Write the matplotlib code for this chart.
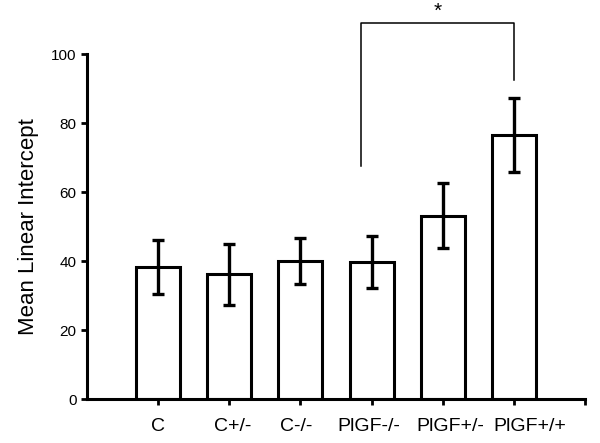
import numpy as np
import matplotlib
matplotlib.use("Agg")
import matplotlib.pyplot as plt

plt.rcParams['font.family'] = ['Liberation Sans', 'DejaVu Sans']

# data
groups = ["C", "C+/-", "C-/-", "PlGF-/-", "PlGF+/-", "PlGF+/+"]
means = [38.3, 36.2, 40.0, 39.7, 53.0, 76.5]
err_lo = [30.4, 27.2, 33.3, 32.2, 43.8, 65.8]
err_hi = [46.1, 44.9, 46.7, 47.2, 62.6, 87.2]
# labels in the original are not exactly centred under the ticks
label_shift = [0.0, 0.05, -0.06, -0.04, 0.1, 0.22]

x = np.arange(1, len(groups) + 1)
yerr = np.array([np.subtract(means, err_lo), np.subtract(err_hi, means)])

fig = plt.figure(figsize=(6, 4.43), dpi=100)
ax = fig.add_axes([0.145, 0.0993, 0.83, 0.7787])

ax.bar(x, means, width=0.62, color='white', edgecolor='black', linewidth=2.2, zorder=2)
ax.errorbar(x, means, yerr=yerr, fmt='none', ecolor='black', elinewidth=2.4,
            capsize=4.3, capthick=2.4, zorder=3)

# significance bracket
ax.plot([3.85, 3.85, 6.0, 6.0], [67.5, 109, 109, 92.5], color='black', lw=1.1,
        clip_on=False)
ax.text(4.93, 109.5, '*', ha='center', va='bottom', fontsize=15)

ax.set_xlim(0, 7)
ax.set_ylim(0, 100)
ax.set_xticks(list(x) + [7])
ax.set_xticklabels([])
for xi, g, sh in zip(x, groups, label_shift):
    ax.text(xi + sh, -0.055, g, transform=ax.get_xaxis_transform(),
            ha='center', va='top', fontsize=14)
ax.set_yticks([0, 20, 40, 60, 80, 100])
ax.tick_params(axis='y', labelsize=11, width=2, length=4)
ax.tick_params(axis='x', width=2, length=4)
ax.set_ylabel('Mean Linear Intercept', fontsize=16, labelpad=9)

for s in ['top', 'right']:
    ax.spines[s].set_visible(False)
for s in ['left', 'bottom']:
    ax.spines[s].set_linewidth(2.2)

fig.savefig('out.png', dpi=100)
